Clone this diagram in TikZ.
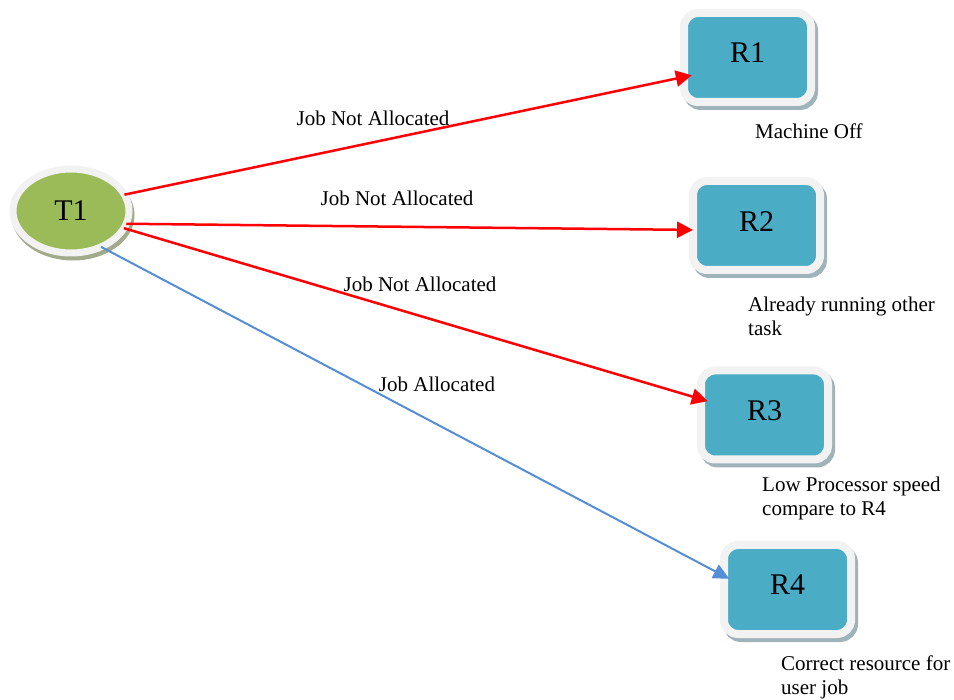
\documentclass[tikz,border=0pt]{standalone}
\usepackage{fontspec}
\setmainfont{Liberation Serif}
\usetikzlibrary{shapes.geometric,shadows,arrows.meta}
\definecolor{tealbox}{HTML}{4BACC6}
\definecolor{greenT}{HTML}{9BBB59}
\definecolor{ringc}{HTML}{F2F2F2}
\definecolor{shadowc}{HTML}{9FB3BB}
\definecolor{shadowg}{HTML}{A3AA8C}
\definecolor{blueA}{HTML}{558ED5}
\begin{document}
\begin{tikzpicture}[x=1pt,y=-1pt,
  rbox/.style={rectangle, rounded corners=14pt, minimum width=127pt, minimum height=89pt,
    fill=tealbox, draw=ringc, line width=8pt, outer sep=0pt, inner sep=0pt,
    font=\fontsize{30}{31}\selectfont,
    drop shadow={shadow xshift=3pt, shadow yshift=-4pt, fill=shadowc, draw=shadowc, line width=8pt, opacity=1}},
  ellT/.style={ellipse, minimum width=116pt, minimum height=84pt, fill=greenT, draw=ringc,
    line width=7pt, outer sep=0pt, inner sep=0pt, font=\fontsize{30}{31}\selectfont,
    drop shadow={shadow xshift=2pt, shadow yshift=-4pt, fill=shadowg, draw=shadowg, line width=7pt, opacity=1}},
  redarrow/.style={draw=red, line width=2.5pt, -{Triangle[length=16pt,width=16pt]}},
  bluearrow/.style={draw=blueA, line width=2pt, -{Triangle[length=16pt,width=15pt]}},
  lbl/.style={font=\fontsize{21}{24}\selectfont, inner sep=0pt},
  captxt/.style={lbl, align=left, anchor=west}
]
\useasboundingbox (0,0) rectangle (954,700);
\node[ellT] (T1) at (71,211) {T1};
\node[rbox] (R1) at (747.5,57.5) {\raisebox{9pt}{R1}};
\node[rbox] (R2) at (756.5,225.5) {\raisebox{8.5pt}{R2}};
\node[rbox] (R3) at (764.5,415) {\raisebox{9pt}{R3}};
\node[rbox] (R4) at (787.5,589.5) {\raisebox{9.5pt}{R4}};

\draw[redarrow, shorten >=-8pt] (T1.17) -- (R1.197);
\draw[redarrow] (T1.-13) -- (R2.184);
\draw[redarrow, shorten >=-7pt] (T1.-18) -- (R3.166);
\draw[bluearrow, shorten >=-6pt] (T1.-50) -- (R4.168);

\node[lbl] (l1) at (373,118) {Job Not Allocated};
\node[lbl] (l2) at (397,198) {Job Not Allocated};
\node[lbl] (l3) at (420,284) {Job Not Allocated};
\node[lbl] (l4) at (437,384) {Job Allocated};

\node[captxt] (c1) at (755,131) {Machine Off};
\node[captxt] (c2) at (748,316) {Already running other\\task};
\node[captxt] (c3) at (762,498) {Low Processor speed\\compare to R4};
\node[captxt] (c4) at (781,677) {Correct resource for\\user job};
\end{tikzpicture}
\end{document}
